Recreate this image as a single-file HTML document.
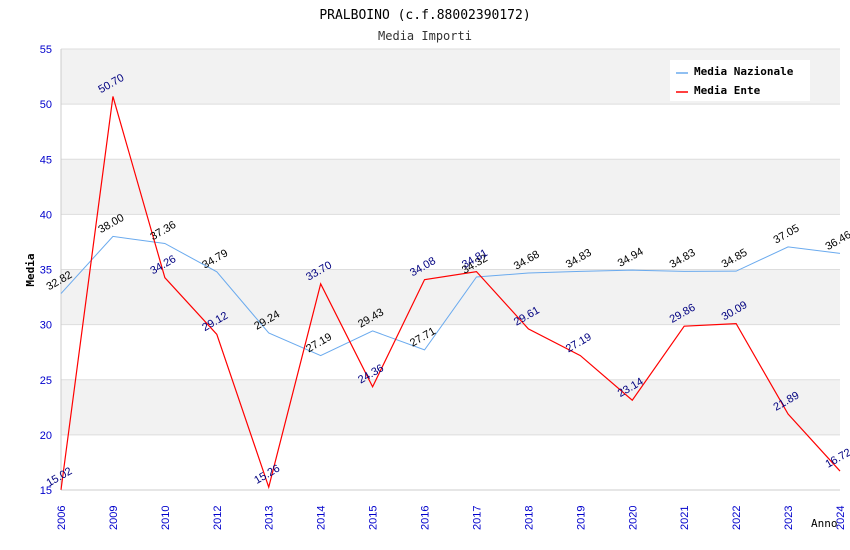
<!DOCTYPE html>
<html><head><meta charset="utf-8"><style>
body{margin:0;background:#fff;width:850px;height:550px;overflow:hidden}
svg{display:block}
text{font-family:"DejaVu Sans Mono","Liberation Mono",monospace}
text.sans{font-family:"Liberation Sans",Arial,sans-serif}
</style></head><body>
<svg id="chart" width="850" height="550">
<text x="425" y="19" text-anchor="middle" font-size="13" fill="#000">PRALBOINO (c.f.88002390172)</text>
<text x="425" y="40" text-anchor="middle" font-size="12" fill="#333">Media Importi</text>
<g id="bands"></g><g id="grid"></g><g id="axes"></g><g id="series"></g><g id="labels"></g>
<text x="34" y="270" transform="rotate(-90 34 270)" text-anchor="middle" font-size="11" font-weight="bold">Media</text>
<text x="811" y="527" font-size="11">Anno</text>
<g>
<rect x="670" y="60" width="140" height="41" fill="#fff"/>
<line x1="676" y1="73" x2="688" y2="73" stroke="#6aaaee" stroke-width="1.5"/>
<text x="694" y="75" font-size="11" font-weight="bold">Media Nazionale</text>
<line x1="676" y1="92" x2="688" y2="92" stroke="#ff0000" stroke-width="1.5"/>
<text x="694" y="94" font-size="11" font-weight="bold">Media Ente</text>
</g>
</svg>
<script>
const categories=["2006","2009","2010","2012","2013","2014","2015","2016","2017","2018","2019","2020","2021","2022","2023","2024"];
const nazionale=[32.82,38.00,37.36,34.79,29.24,27.19,29.43,27.71,34.32,34.68,34.83,34.94,34.83,34.85,37.05,36.46];
const ente=[15.02,50.70,34.26,29.12,15.26,33.70,24.36,34.08,34.81,29.61,27.19,23.14,29.86,30.09,21.89,16.72];
const yTicks=[15,20,25,30,35,40,45,50,55];
const NS="http://www.w3.org/2000/svg";
const X0=61,X1=840,Y0=490,Y1=49,YMIN=15,YMAX=55;
const xs=i=>X0+i*(X1-X0)/(categories.length-1);
const ys=v=>Y0-(v-YMIN)*(Y0-Y1)/(YMAX-YMIN);
function mk(tag,attrs,parent){const e=document.createElementNS(NS,tag);for(const k in attrs)e.setAttribute(k,attrs[k]);document.getElementById(parent).appendChild(e);return e;}
for(let i=0;i<yTicks.length-1;i++){
  if(i%2===1){const b=mk('rect',{x:X0,y:ys(yTicks[i+1]),width:X1-X0,height:ys(yTicks[i])-ys(yTicks[i+1]),fill:'#f2f2f2'},'bands');
  
  }
}
yTicks.forEach(t=>{
  const l=mk('line',{x1:X0,x2:X1,y1:ys(t),y2:ys(t),stroke:'#dddddd'},'grid');
  
  
  const tx=mk('text',{x:X0-9,y:ys(t)+4,'text-anchor':'end','font-size':11,fill:'#0000cc',class:'sans'},'axes');
  tx.textContent=t;
  
  
});
mk('line',{x1:X0,x2:X0,y1:Y1,y2:Y0,stroke:'#ccc'},'axes');
mk('line',{x1:X0,x2:X1,y1:Y0,y2:Y0,stroke:'#ccc'},'axes');
categories.forEach((c,i)=>{
  const x=xs(i);
  const tx=mk('text',{x:x+4,y:530,transform:`rotate(-90 ${x+4} 530)`,'font-size':11,fill:'#0000cc',class:'sans'},'axes');
  tx.textContent=c;
  
  
});
function series(vals,color,name,lblColor,w){
  const p=mk('polyline',{points:vals.map((v,i)=>xs(i)+','+ys(v)).join(' '),fill:'none',stroke:color,'stroke-width':w},'series');
  
  
  vals.forEach((v,i)=>{
    const x=xs(i)-12,y=ys(v)-3;
    const t=mk('text',{x:x,y:y,transform:`rotate(-30 ${x} ${y})`,'font-size':11,fill:lblColor,class:'sans'},'labels');
    t.textContent=v.toFixed(2);
    
    
  });
}
series(nazionale,'#6aaaee','nazionale','#000',1);
series(ente,'#ff0000','ente','#000080',1.2);
</script>
</body></html>
